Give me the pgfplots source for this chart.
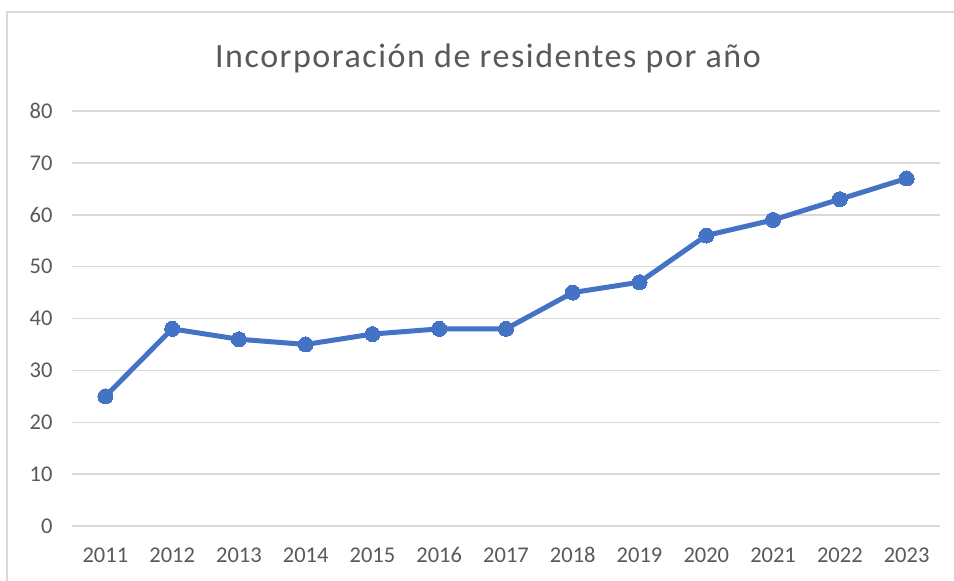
\documentclass[border=0pt]{standalone}
\usepackage{pgfplots}
\pgfplotsset{compat=1.18}
\usepackage{fontspec}
\setmainfont{Carlito}
\definecolor{txtc}{RGB}{89,89,89}
\definecolor{gridc}{RGB}{217,217,217}
\definecolor{linec}{RGB}{68,114,196}
\begin{document}
\begin{tikzpicture}[x=1pt,y=1pt]
\useasboundingbox[fill=white] (0,0) rectangle (954,581);
\draw[gridc, line width=1.5pt] (7,-10) -- (7,569) -- (970,569);
\node[text=txtc, font=\fontsize{34}{39}\selectfont\addfontfeatures{LetterSpace=4.5}] at (488,523) {Incorporación de residentes por año};
\begin{axis}[
  at={(72pt,55pt)}, anchor=south west,
  scale only axis, width=868pt, height=415pt,
  xmin=-0.5, xmax=12.5, ymin=0, ymax=80,
  xtick={0,...,12},
  xticklabels={2011,2012,2013,2014,2015,2016,2017,2018,2019,2020,2021,2022,2023},
  ytick={0,10,...,80},
  xmajorgrids=false, ymajorgrids=true,
  y grid style={gridc, line width=1.5pt},
  axis line style={draw=none},
  major tick length=0pt,
  tick label style={text=txtc, font=\fontsize{22.5}{26}\selectfont},
  /pgf/number format/assume math mode=true,
  xticklabel style={yshift=-18pt},
  yticklabel style={xshift=-16pt},
  clip=false,
]
\addplot[linec, line width=5pt, mark=*, mark size=7.5pt, mark options={fill=linec, draw=linec, line width=0pt}] coordinates {
(0,25) (1,38) (2,36) (3,35) (4,37) (5,38) (6,38) (7,45) (8,47) (9,56) (10,59) (11,63) (12,67)
};
\end{axis}
\end{tikzpicture}
\end{document}
